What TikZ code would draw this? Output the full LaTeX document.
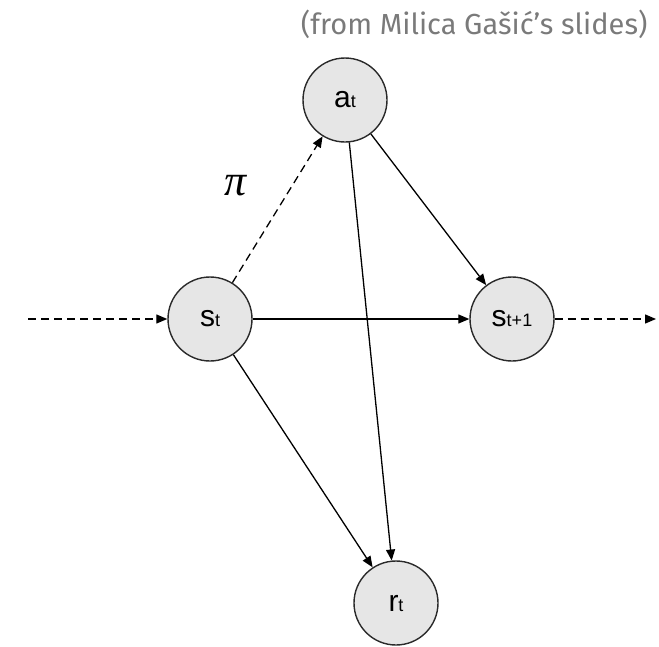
\documentclass[tikz,border=0pt]{standalone}
\usepackage{fontspec}
\setmainfont{Liberation Sans}
\newfontfamily\notefont{Fira Sans}
\newfontfamily\pifont{Liberation Serif}
\usetikzlibrary{arrows.meta}
\definecolor{nodefill}{HTML}{E6E6E6}
\definecolor{nodeline}{HTML}{2A2A2A}
\definecolor{notegray}{HTML}{7A7A7A}
\tikzset{
  state/.style={circle, draw=nodeline, fill=nodefill, line width=1.4pt, minimum size=84pt, inner sep=0pt},
  conn/.style={-{Triangle[length=11pt,width=9pt]}, line width=1.3pt, black},
  dconn/.style={conn, dashed, dash pattern=on 8pt off 5pt}
}
\newcommand{\lab}[2]{{\fontsize{30}{30}\selectfont #1}{\fontsize{18}{18}\selectfont #2}}
\begin{document}
\begin{tikzpicture}[x=1pt,y=-1pt]
\useasboundingbox (0,0) rectangle (659,646);
\node[state] (a) at (345,100) {\lab{a}{t}};
\node[state] (s) at (210,319) {\lab{s}{t}};
\node[state] (s1) at (512,319) {\lab{s}{t+1}};
\node[state] (r) at (396,603) {\lab{r}{t}};
\coordinate (in) at (28,319);
\coordinate (out) at (656,319);
\node[text=notegray, anchor=east, font=\notefont\fontsize{29}{29}\selectfont] (note) at (651,24) {(from Milica Gašić’s slides)};
\node (pi) at (236,186) {\pifont\itshape\fontsize{44}{44}\selectfont π};
\draw[dconn] (in) -- (s);
\draw[dconn] (s1) -- (out);
\draw[dconn] (s) -- (a);
\draw[conn] (s) -- (s1);
\draw[conn] (a) -- (s1);
\draw[conn] (a) -- (r);
\draw[conn] (s) -- (r);
\end{tikzpicture}
\end{document}
